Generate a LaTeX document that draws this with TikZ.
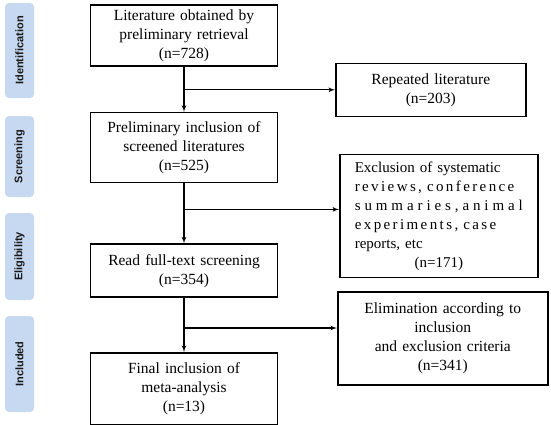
\documentclass[tikz,border=0pt]{standalone}
\usepackage{fontspec}
\setmainfont{Liberation Serif}
\newfontfamily\stagefont{Liberation Sans}
\usetikzlibrary{shapes,arrows,positioning}
\definecolor{stageblue}{RGB}{198,217,240}
\newcommand*{\spread}[2]{\makebox[160pt][s]{\addfontfeature{LetterSpace=#1}#2}}

\begin{document}
\begin{tikzpicture}[x=1pt, y=1pt,
    block_main/.style ={rectangle, draw=black, line width=1.6pt, fill=white,
      font=\fontsize{15.5}{19}\selectfont, text width=183pt, align=center, inner xsep=2pt, inner ysep=2pt},
    block_side/.style ={rectangle, draw=black, line width=1.6pt, fill=white,
      font=\fontsize{15.5}{19}\selectfont, align=center, inner xsep=2pt, inner ysep=2pt},
    block_stage/.style ={rectangle, rounded corners=4pt, fill=stageblue, text=black!90, rotate=90,
      font=\stagefont\bfseries\fontsize{11}{13}\selectfont, minimum height=29pt, inner sep=0pt},
    line/.style ={draw, line width=1.2pt, -latex', shorten >=0pt}]
    \useasboundingbox (0,0) rectangle (551,-424);
    % stages
    \node [block_stage, minimum width=95pt] (identification) at (19.5,-50.5) {Identification};
    \node [block_stage, minimum width=81pt] (screening) at (19.5,-156.5) {Screening};
    \node [block_stage, minimum width=87pt] (eligibility) at (19.5,-256.5) {Eligibility};
    \node [block_stage, minimum width=96pt] (included) at (19.5,-364) {Included};
    % main column
    \node [block_main, minimum height=61pt] (retrieved) at (184,-35.5) {Literature obtained by\\ preliminary retrieval\\ (n=728)};
    \coordinate [below=23pt of retrieved] (split1);
    \node [block_main, minimum height=70pt] (screened) [below=45pt of retrieved] {Preliminary inclusion of\\ screened literatures\\ (n=525)};
    \coordinate [below=26pt of screened] (split2);
    \node [block_main, minimum height=53pt] (fulltext) [below=60pt of screened] {Read full-text screening\\ (n=354)};
    \coordinate [below=30pt of fulltext] (split3);
    \node [block_main, minimum height=72pt] (final) [below=54pt of fulltext] {Final inclusion of\\ meta-analysis\\ (n=13)};
    % excluded
    \node [block_side, text width=186pt, minimum height=53pt] (repeated) [right=151pt of split1] {Repeated literature\\ (n=203)};
    \node [block_side, text width=168pt, inner xsep=15pt, minimum height=123pt, align=left, yshift=-6.5pt,
      font=\fontsize{15}{19}\selectfont] (excluded) [right=155pt of split2] {Exclusion of systematic\\
      \spread{16}{reviews, conference}\\
      \spread{26}{summaries,animal}\\
      \spread{16}{experiments, case}\\
      reports, etc\\
      \makebox[168pt]{(n=171)}};
    \node [block_side, text width=206pt, minimum height=93pt, yshift=-10.5pt] (eliminated) [right=153pt of split3]
      {Elimination according to\\ inclusion\\ and exclusion criteria\\ (n=341)};
    % connecting nodes with paths
    \begin{scope}[every path/.style=line]
      \path (retrieved) -- (screened);
      \path (split1)    -- (repeated);
      \path (screened)  -- (fulltext);
      \path (split2)    -- (split2 -| excluded.west);
      \path (fulltext)  -- (final);
      \path (split3)    -- (split3 -| eliminated.west);
    \end{scope}
\end{tikzpicture}
\end{document}
